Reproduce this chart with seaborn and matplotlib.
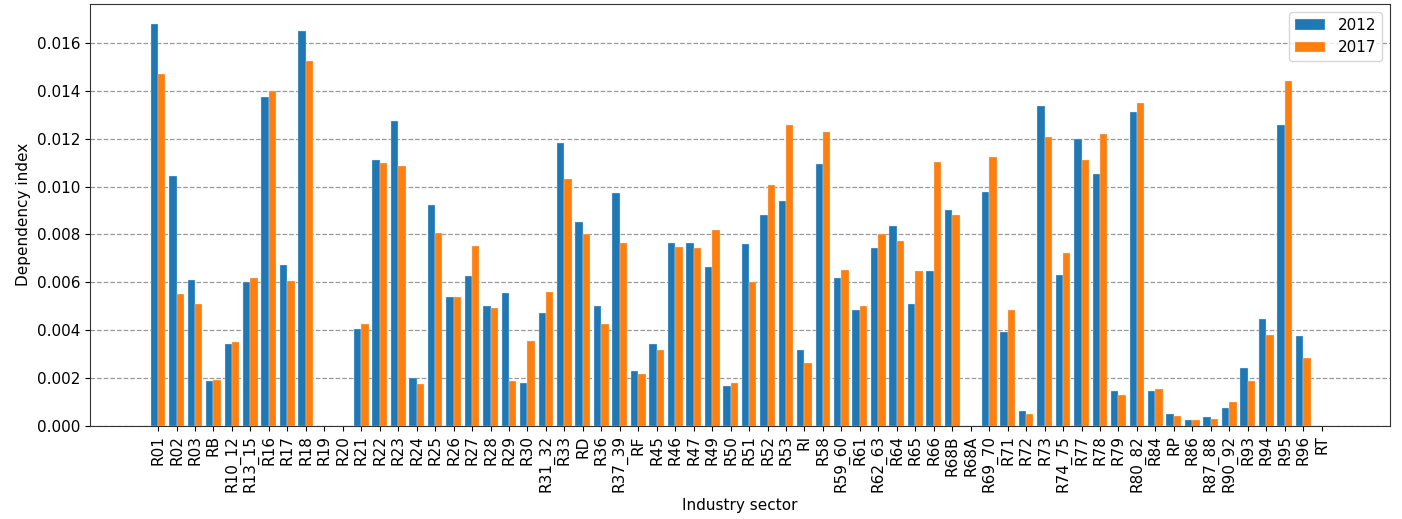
import numpy as np
import pandas as pd
import matplotlib
matplotlib.use("Agg")
import matplotlib.pyplot as plt
import seaborn as sns

sectors = ["R01", "R02", "R03", "RB", "R10_12", "R13_15", "R16", "R17", "R18", "R19",
           "R20", "R21", "R22", "R23", "R24", "R25", "R26", "R27", "R28", "R29",
           "R30", "R31_32", "R33", "RD", "R36", "R37_39", "RF", "R45", "R46", "R47",
           "R49", "R50", "R51", "R52", "R53", "RI", "R58", "R59_60", "R61", "R62_63",
           "R64", "R65", "R66", "R68B", "R68A", "R69_70", "R71", "R72", "R73", "R74_75",
           "R77", "R78", "R79", "R80_82", "R84", "RP", "R86", "R87_88", "R90_92", "R93",
           "R94", "R95", "R96", "RT"]

values_2012 = [0.01681, 0.01046, 0.00611, 0.00185, 0.00340, 0.00601, 0.01376, 0.00671, 0.01649, 0.0,
               0.0, 0.00404, 0.01110, 0.01273, 0.00201, 0.00923, 0.00540, 0.00625, 0.00501, 0.00554,
               0.00177, 0.00471, 0.01182, 0.00851, 0.00501, 0.00975, 0.00230, 0.00340, 0.00766, 0.00766,
               0.00664, 0.00166, 0.00760, 0.00883, 0.00941, 0.00315, 0.01096, 0.00617, 0.00483, 0.00741,
               0.00837, 0.00508, 0.00645, 0.00904, 0.0, 0.00979, 0.00391, 0.00061, 0.01337, 0.00631,
               0.01198, 0.01051, 0.00146, 0.01310, 0.00146, 0.00049, 0.00023, 0.00035, 0.00074, 0.00242,
               0.00444, 0.01259, 0.00373, 0.0]

values_2017 = [0.01473, 0.00549, 0.00508, 0.00191, 0.00348, 0.00618, 0.01398, 0.00604, 0.01526, 0.0,
               0.0, 0.00425, 0.01097, 0.01085, 0.00173, 0.00804, 0.00540, 0.00753, 0.00494, 0.00185,
               0.00354, 0.00561, 0.01032, 0.00801, 0.00425, 0.00762, 0.00216, 0.00315, 0.00748, 0.00741,
               0.00817, 0.00177, 0.00602, 0.01005, 0.01259, 0.00262, 0.01227, 0.00650, 0.00501, 0.00801,
               0.00774, 0.00645, 0.01103, 0.00883, 0.0, 0.01124, 0.00482, 0.00049, 0.01209, 0.00723,
               0.01110, 0.01221, 0.00127, 0.01349, 0.00152, 0.00042, 0.00023, 0.00028, 0.00100, 0.00185,
               0.00378, 0.01440, 0.00283, 0.0]

years = ["2012", "2017"]

df = pd.DataFrame({
    "sector": sectors * 2,
    "value": values_2012 + values_2017,
    "year": [years[0]] * len(sectors) + [years[1]] * len(sectors),
})

plt.rcParams["font.family"] = ["DejaVu Sans"]
plt.rcParams["font.size"] = 11

fig = plt.figure(figsize=(14.02, 5.19), dpi=100)
ax = fig.add_axes([0.064, 0.18, 0.9274, 0.8123])

sns.barplot(data=df, x="sector", y="value", hue="year", order=sectors,
            hue_order=years, palette=["#1f77b4", "#ff7f0e"], saturation=1,
            width=0.8, edgecolor="#dbe8f5", linewidth=0.25, errorbar=None, ax=ax)

ax.set_xlim(-3.7, len(sectors) - 1 + 3.7)
ax.set_ylim(0, 0.01764)
ax.set_yticks(np.arange(0, 0.0161, 0.002))
ax.set_yticklabels([f"{v:.3f}" for v in np.arange(0, 0.0161, 0.002)])
ax.tick_params(axis="x", labelrotation=90)
ax.yaxis.grid(True, linestyle="--", color="gray", alpha=0.8, linewidth=0.9)
ax.set_axisbelow(True)
ax.set_xlabel("Industry sector")
ax.set_ylabel("Dependency index")
for s in ax.spines.values():
    s.set_color("#333333")
ax.legend(loc="upper right", title=None)

fig.savefig("out.png", dpi=100)
